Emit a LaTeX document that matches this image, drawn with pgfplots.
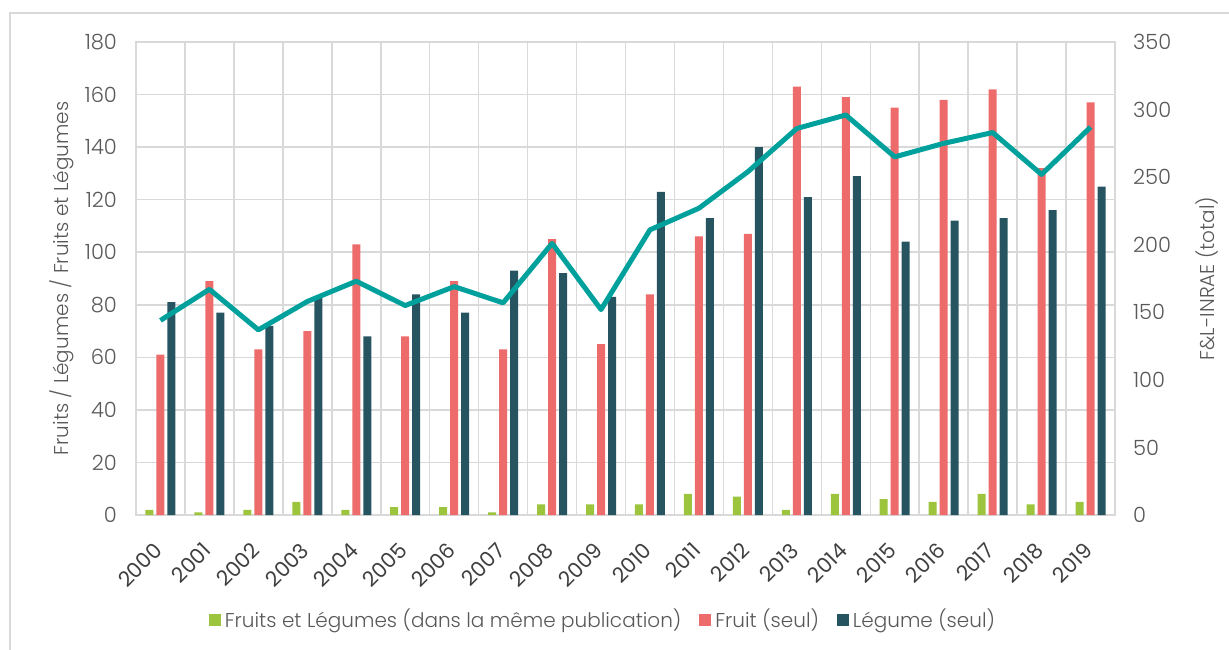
\documentclass[border=0pt]{standalone}
\usepackage{pgfplots}
\usepackage{pgfplotstable}
\pgfplotsset{compat=1.18}
\usepackage{fontspec}
\setmainfont{Poppins Light}
\newfontfamily\regfont{Poppins}
\definecolor{cgreen}{HTML}{9DC43D}
\definecolor{cred}{HTML}{EE6B6B}
\definecolor{cdark}{HTML}{275461}
\definecolor{cteal}{HTML}{00A19C}
\definecolor{cgrid}{HTML}{D9D9D9}
\definecolor{ctext}{HTML}{595959}
\definecolor{cxtext}{HTML}{404040}

\pgfplotstableread{
yr g f l t
0 2 61 81 144
1 1 89 77 167
2 2 63 72 137
3 5 70 83 158
4 2 103 68 173
5 3 68 84 155
6 3 89 77 169
7 1 63 93 157
8 4 105 92 201
9 4 65 83 152
10 4 84 123 211
11 8 106 113 227
12 7 107 140 254
13 2 163 121 286
14 8 159 129 296
15 6 155 104 265
16 5 158 112 275
17 8 162 113 283
18 4 132 116 252
19 5 157 125 287
}\data

\pgfplotsset{
  common/.style={
    scale only axis, width=489.5pt, height=236.5pt,
    at={(68pt,67pt)}, anchor=south west,
    xmin=-0.5, xmax=19.5, ymin=0,
    tick style={draw=none},
    axis line style={cgrid, line width=0.75pt},
    /pgf/number format/assume math mode=true,
    ticklabel style={font=\fontsize{10.5}{12}\selectfont, text=ctext},
    label style={font=\fontsize{10}{12}\selectfont, text=ctext},
  }
}

\begin{document}
\begin{tikzpicture}
\useasboundingbox (0,0) rectangle (614.5pt,324.5pt);
\draw[cgrid, line width=0.75pt] (5pt,-2pt) -- (5pt,318pt) -- (620pt,318pt);

\begin{axis}[common,
  ybar=1.5pt, bar width=4pt,
  ymax=180, ytick={0,20,...,180},
  ymajorgrids, xminorgrids,
  grid style={cgrid, line width=0.75pt},
  minor grid style={cgrid, line width=0.75pt},
  xtick={0,...,19},
  xticklabels={2000,2001,2002,2003,2004,2005,2006,2007,2008,2009,2010,2011,2012,2013,2014,2015,2016,2017,2018,2019},
  minor xtick={-0.5,0.5,1.5,2.5,3.5,4.5,5.5,6.5,7.5,8.5,9.5,10.5,11.5,12.5,13.5,14.5,15.5,16.5,17.5,18.5,19.5},
  xticklabel style={rotate=45, anchor=north east, xshift=-5.5pt, yshift=0pt,
    font=\regfont\fontsize{10.5}{12}\selectfont, text=cxtext},
  yticklabel style={xshift=-6pt},
  ylabel={Fruits / Légumes / Fruits et Légumes},
  ylabel style={at={(axis description cs:-0.0756,0.5)}, anchor=center},
  legend style={at={(0.478,-0.222)}, anchor=center, draw=none, fill=none,
    legend columns=3, font=\fontsize{10}{12}\selectfont, text=ctext,
    /tikz/every even column/.append style={column sep=7pt}},
  legend image code/.code={\fill[#1] (0pt,-3pt) rectangle (6pt,3pt);},
]
\addplot[fill=cgreen, draw=none] table[x=yr,y=g]{\data};
\addplot[fill=cred, draw=none] table[x=yr,y=f]{\data};
\addplot[fill=cdark, draw=none] table[x=yr,y=l]{\data};
\legend{Fruits et Légumes (dans la même publication), Fruit (seul), Légume (seul)}
\end{axis}

\begin{axis}[common,
  axis y line*=right, axis x line=none,
  ymax=350, ytick={0,50,...,350},
  yticklabel style={xshift=5.5pt},
  ylabel={F\&L-INRAE (total)},
  ylabel style={at={(axis description cs:1.094,0.5)}, anchor=center},
]
\addplot[cteal, line width=2.5pt, line join=round] table[x=yr,y=t]{\data};
\end{axis}
\end{tikzpicture}
\end{document}
